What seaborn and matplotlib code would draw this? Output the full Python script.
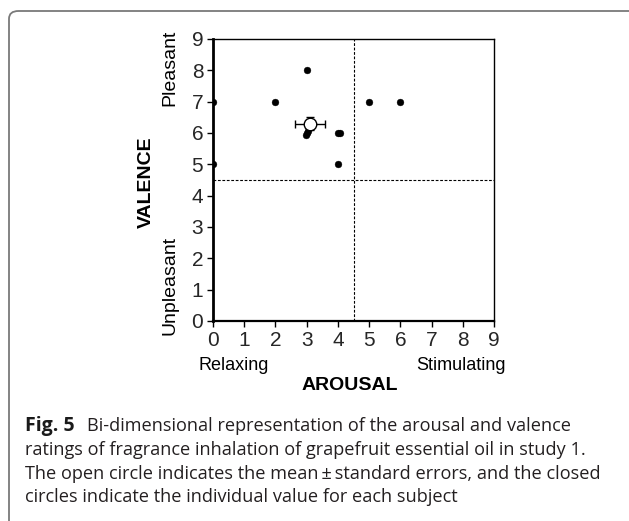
import matplotlib
matplotlib.use("Agg")
import matplotlib.pyplot as plt
import seaborn as sns
import pandas as pd
from matplotlib.patches import FancyBboxPatch

# ---- data ----
arousal = [0, 0, 2, 3, 3, 3.03, 2.98, 4, 4.08, 4, 5, 6]
valence = [7, 5, 7, 8, 6, 6.05, 5.95, 6, 6, 5, 7, 7]
mean_arousal = 3.10
mean_valence = 6.30
se_arousal = 0.48
se_valence = 0.22
ticks = [0, 1, 2, 3, 4, 5, 6, 7, 8, 9]
midpoint = 4.5

W, H = 629, 521
sns.set_theme(style="white")
plt.rcParams['font.family'] = ['Liberation Sans', 'DejaVu Sans']

fig = plt.figure(figsize=(W / 100, H / 100), dpi=100)

def px(x, y):
    return x / W, 1 - y / H

# frame
box = FancyBboxPatch(px(9, 545), 630 / W, 534 / H,
                     boxstyle="round,pad=0,rounding_size=0.015",
                     transform=fig.transFigure, facecolor="none",
                     edgecolor="#7a7a7a", linewidth=1.3, clip_on=False)
fig.patches.append(box)

left, right, top, bottom = 213, 494, 39, 321
ax = fig.add_axes([left / W, 1 - bottom / H, (right - left) / W, (bottom - top) / H])

df = pd.DataFrame({"arousal": arousal, "valence": valence})
sns.scatterplot(data=df, x="arousal", y="valence", ax=ax, color="black",
                s=24, edgecolor="black", linewidth=0.3, zorder=3)

ax.axvline(midpoint, color="black", linewidth=0.8, linestyle=(0, (2.5, 1.5)), zorder=1)
ax.axhline(midpoint, color="black", linewidth=0.8, linestyle=(0, (2.5, 1.5)), zorder=1)

ax.errorbar([mean_arousal], [mean_valence], xerr=[se_arousal], yerr=[se_valence],
            fmt="o", markersize=9, markerfacecolor="white", markeredgecolor="black",
            markeredgewidth=1.0, ecolor="black", elinewidth=1.0, capsize=3,
            capthick=1.0, zorder=4)

ax.set_xlim(0, 9)
ax.set_ylim(0, 9)
ax.set_xticks(ticks)
ax.set_yticks(ticks)
ax.set_xticklabels([str(t) for t in ticks])
ax.set_yticklabels([str(t) for t in ticks])
ax.set_xlabel("")
ax.set_ylabel("")
ax.tick_params(axis="both", direction="out", length=4, width=1, color="black",
               labelsize=15, pad=3, left=True, bottom=True)
for s in ["top", "right"]:
    ax.spines[s].set_linewidth(1.0)
    ax.spines[s].set_color("black")
ax.spines["left"].set_linewidth(2.0)
ax.spines["bottom"].set_linewidth(1.6)
ax.spines["left"].set_color("black")
ax.spines["bottom"].set_color("black")

# axis side labels
fig.text(*px(146, 182), "VALENCE", rotation=90, ha="center", va="center",
         fontsize=14, fontweight="bold", color="black")
fig.text(*px(170, 68), "Pleasant", rotation=90, ha="center", va="center",
         fontsize=14, color="black")
fig.text(*px(170, 285), "Unpleasant", rotation=90, ha="center", va="center",
         fontsize=14, color="black")
fig.text(*px(234, 366), "Relaxing", ha="center", va="center", fontsize=13, color="black")
fig.text(*px(461, 366), "Stimulating", ha="center", va="center", fontsize=13, color="black")
fig.text(*px(350, 386), "AROUSAL", ha="center", va="center", fontsize=14,
         fontweight="bold", color="black")

# caption
cap_font = ['Open Sans', 'DejaVu Sans']
cs = 13.1
fig.text(*px(25, 431), "Fig. 5", ha="left", va="baseline", fontsize=14,
         fontweight="bold", family=cap_font, color="#1a1a1a")
fig.text(*px(87, 431), "Bi-dimensional representation of the arousal and valence",
         ha="left", va="baseline", fontsize=cs, family=cap_font, color="#231f20")
fig.text(*px(25, 455), "ratings of fragrance inhalation of grapefruit essential oil in study 1.",
         ha="left", va="baseline", fontsize=cs, family=cap_font, color="#231f20")
fig.text(*px(25, 479), "The open circle indicates the mean\u2009\u00b1\u2009standard errors, and the closed",
         ha="left", va="baseline", fontsize=cs, family=cap_font, color="#231f20")
fig.text(*px(25, 502), "circles indicate the individual value for each subject",
         ha="left", va="baseline", fontsize=cs, family=cap_font, color="#231f20")

fig.savefig("out.png", dpi=100)
